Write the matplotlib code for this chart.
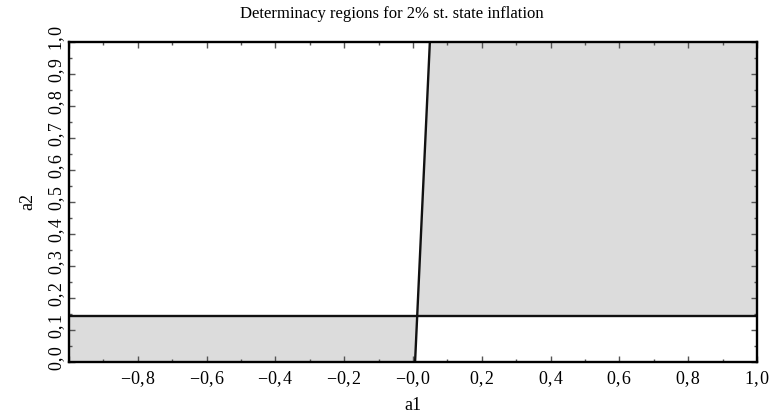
import numpy as np
from matplotlib import pyplot as plt
from matplotlib.ticker import MultipleLocator
from matplotlib.transforms import ScaledTranslation

# boundary of determinacy region (a1 as function of a2)
a2_edge = [0.0, 1.0]
a1_edge = [0.006, 0.049]
a2_level = 0.144

x_ticks = [-1.0, -0.8, -0.6, -0.4, -0.2, 0.0, 0.2, 0.4, 0.6, 0.8, 1.0]
x_labels = ['', '\u22120,\u200a8', '\u22120,\u200a6', '\u22120,\u200a4', '\u22120,\u200a2',
            '\u22120,\u200a0', '0,\u200a2', '0,\u200a4', '0,\u200a6', '0,\u200a8', '1,\u200a0']
y_ticks = [0.0, 0.1, 0.2, 0.3, 0.4, 0.5, 0.6, 0.7, 0.8, 0.9, 1.0]
y_labels = ['0,\u200a0', '0,\u200a1', '0,\u200a2', '0,\u200a3', '0,\u200a4', '0,\u200a5',
            '0,\u200a6', '0,\u200a7', '0,\u200a8', '0,\u200a9', '1,\u200a0']

plt.rcParams['font.family'] = ['Liberation Serif', 'DejaVu Serif']
fig = plt.figure(figsize=(7.83, 4.18), dpi=100)
ax = fig.add_axes([69 / 783, 1 - 362 / 418, (757 - 69) / 783, (362 - 42) / 418])

yy = np.array(a2_edge)
xx = np.array(a1_edge)
y_lo = np.array([0.0, a2_level])
y_hi = np.array([a2_level, 1.0])
x_lo = np.interp(y_lo, yy, xx)
x_hi = np.interp(y_hi, yy, xx)

ax.fill_betweenx(y_lo, -1.0, x_lo, color='#dcdcdc', lw=0)
ax.fill_betweenx(y_hi, x_hi, 1.0, color='#dcdcdc', lw=0)
ax.plot(a1_edge, a2_edge, color='#111111', lw=1.7)
ax.axhline(a2_level, color='#111111', lw=1.7)

ax.set_xlim(-1.0, 1.0)
ax.set_ylim(0.0, 1.0)
ax.set_xticks(x_ticks)
ax.set_xticklabels(x_labels)
ax.set_yticks(y_ticks)
ax.set_yticklabels(y_labels, rotation=90, va='center')
ax.xaxis.set_minor_locator(MultipleLocator(0.1))
ax.yaxis.set_minor_locator(MultipleLocator(0.05))
ax.tick_params(which='both', direction='in', top=True, right=True,
               labelsize=13, color='#555555')
ax.tick_params(which='major', length=4, width=1)
ax.tick_params(which='minor', length=2, width=1)
ax.tick_params(axis='y', pad=3)
ax.tick_params(axis='x', pad=6)
for s in ax.spines.values():
    s.set_linewidth(1.7)

# y labels sit a little above their ticks in the original
shift = ScaledTranslation(0, 4 / 100, fig.dpi_scale_trans)
for lbl in ax.get_yticklabels():
    lbl.set_transform(lbl.get_transform() + shift)

fig.text(0.5, 1 - 18 / 418, "Determinacy regions for 2% st. state inflation",
         fontsize=12, ha='center', va='baseline')
ax.set_xlabel("a1", fontsize=13, labelpad=7)
ax.set_ylabel("a2", fontsize=13, labelpad=8)

fig.savefig('out.png', dpi=100)
